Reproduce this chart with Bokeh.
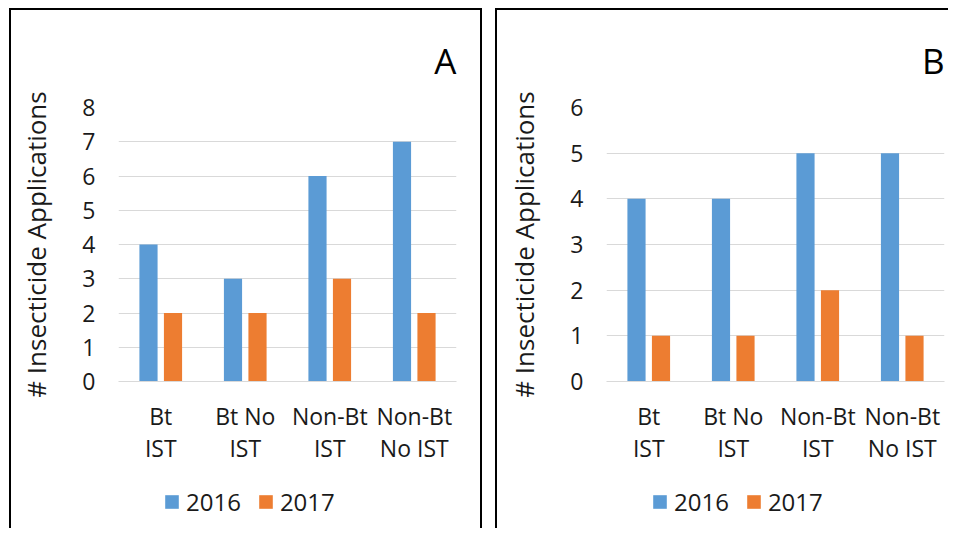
from bokeh.plotting import figure
from bokeh.models import (FactorRange, Range1d, FixedTicker, Legend, LegendItem,
                          ColumnDataSource)
from bokeh.transform import dodge
from bokeh.layouts import row, column
from bokeh.embed import file_html
from bokeh.resources import INLINE

# ---- data ----
categories = ["Bt\nIST", "Bt No\nIST", "Non-Bt\nIST", "Non-Bt\nNo IST"]
years = ["2016", "2017"]
a_2016 = [4, 3, 6, 7]
a_2017 = [2, 2, 3, 2]
b_2016 = [4, 4, 5, 5]
b_2017 = [1, 1, 2, 1]
a_ticks = [0, 1, 2, 3, 4, 5, 6, 7, 8]
b_ticks = [0, 1, 2, 3, 4, 5, 6]
y_label = "# Insecticide Applications"

FONT = "Open Sans"
BLUE = "#5B9BD5"
ORANGE = "#ED7D31"
GRID = "#D9D9D9"
TXT = "#1a1a1a"
H_MAIN = 462
H_LEG = 56


def add_bars(p, src):
    r1 = p.vbar(x=dodge("cat", -0.145, range=p.x_range), top="y16", width=0.215,
                source=src, fill_color=BLUE, line_color=None)
    r2 = p.vbar(x=dodge("cat", 0.145, range=p.x_range), top="y17", width=0.215,
                source=src, fill_color=ORANGE, line_color=None)
    return r1, r2


def make_panel(letter, v16, v17, ticks, width, left, right, leg_x):
    src = ColumnDataSource(dict(cat=categories, y16=v16, y17=v17))
    p = figure(x_range=FactorRange(*categories, range_padding=0),
               y_range=Range1d(ticks[0], ticks[-1]),
               width=width, height=H_MAIN, output_backend="svg", toolbar_location=None,
               min_border_left=left, min_border_right=right,
               min_border_top=97, min_border_bottom=H_MAIN - 97 - 274,
               title=letter)
    add_bars(p, src)
    p.outline_line_color = None
    p.background_fill_color = "white"
    p.border_fill_color = "white"
    p.xgrid.grid_line_color = None
    p.ygrid.grid_line_color = GRID
    p.ygrid.grid_line_width = 1
    p.yaxis.ticker = FixedTicker(ticks=ticks)

    p.title.align = "right"
    p.title.text_font = FONT
    p.title.text_font_size = "35px"
    p.title.text_font_style = "normal"
    p.title.text_color = "black"
    p.title.standoff = 47

    ya = p.yaxis[0]
    ya.axis_line_color = None
    ya.major_tick_line_color = None
    ya.minor_tick_line_color = None
    ya.major_tick_out = 0
    ya.major_label_standoff = 23
    ya.major_label_text_font = FONT
    ya.major_label_text_font_size = "23px"
    ya.major_label_text_color = TXT
    ya.axis_label = y_label
    ya.axis_label_text_font = FONT
    ya.axis_label_text_font_size = "26px"
    ya.axis_label_text_font_style = "normal"
    ya.axis_label_text_color = TXT
    ya.axis_label_standoff = 25

    xa = p.xaxis[0]
    xa.axis_line_color = GRID
    xa.major_tick_line_color = None
    xa.minor_tick_line_color = None
    xa.major_tick_out = 0
    xa.major_label_standoff = 18
    xa.major_label_text_font = FONT
    xa.major_label_text_font_size = "23px"
    xa.major_label_text_color = TXT
    xa.major_label_text_line_height = 1.0

    # legend strip below the chart (its bar renderers are hidden; only the key shows)
    pl = figure(x_range=FactorRange(*categories, range_padding=0),
                y_range=Range1d(0, 1), width=width, height=H_LEG,
                output_backend="svg", toolbar_location=None,
                x_axis_type=None, y_axis_type=None,
                min_border_left=left, min_border_right=right,
                min_border_top=0, min_border_bottom=0)
    pl.outline_line_color = None
    pl.background_fill_color = "white"
    pl.border_fill_color = "white"
    l1, l2 = add_bars(pl, src)
    l1.visible = False
    l2.visible = False
    legend = Legend(items=[LegendItem(label=years[0], renderers=[l1]),
                           LegendItem(label=years[1], renderers=[l2])],
                    orientation="horizontal", location=(leg_x, 10),
                    glyph_width=17, glyph_height=17, label_standoff=6, spacing=16,
                    padding=0, margin=0, border_line_color=None,
                    background_fill_alpha=0, inactive_fill_alpha=0,
                    label_text_font=FONT, label_text_font_size="24px",
                    label_text_color=TXT)
    pl.add_layout(legend, "center")
    return p, pl


border = "2px solid black"
pa, la = make_panel("A", a_2016, a_2017, a_ticks, 469, 107, 24, 45)
pb, lb = make_panel("B", b_2016, b_2017, b_ticks, 451, 109, 4, 45)

ca = column(pa, la, styles={"border-left": border, "border-right": border,
                            "border-top": border})
cb = column(pb, lb, styles={"border-left": border, "border-top": border})

layout = row(ca, cb, spacing=13, styles={"padding-left": "9px", "padding-top": "8px"})
open("out.html", "w").write(file_html(layout, INLINE))
